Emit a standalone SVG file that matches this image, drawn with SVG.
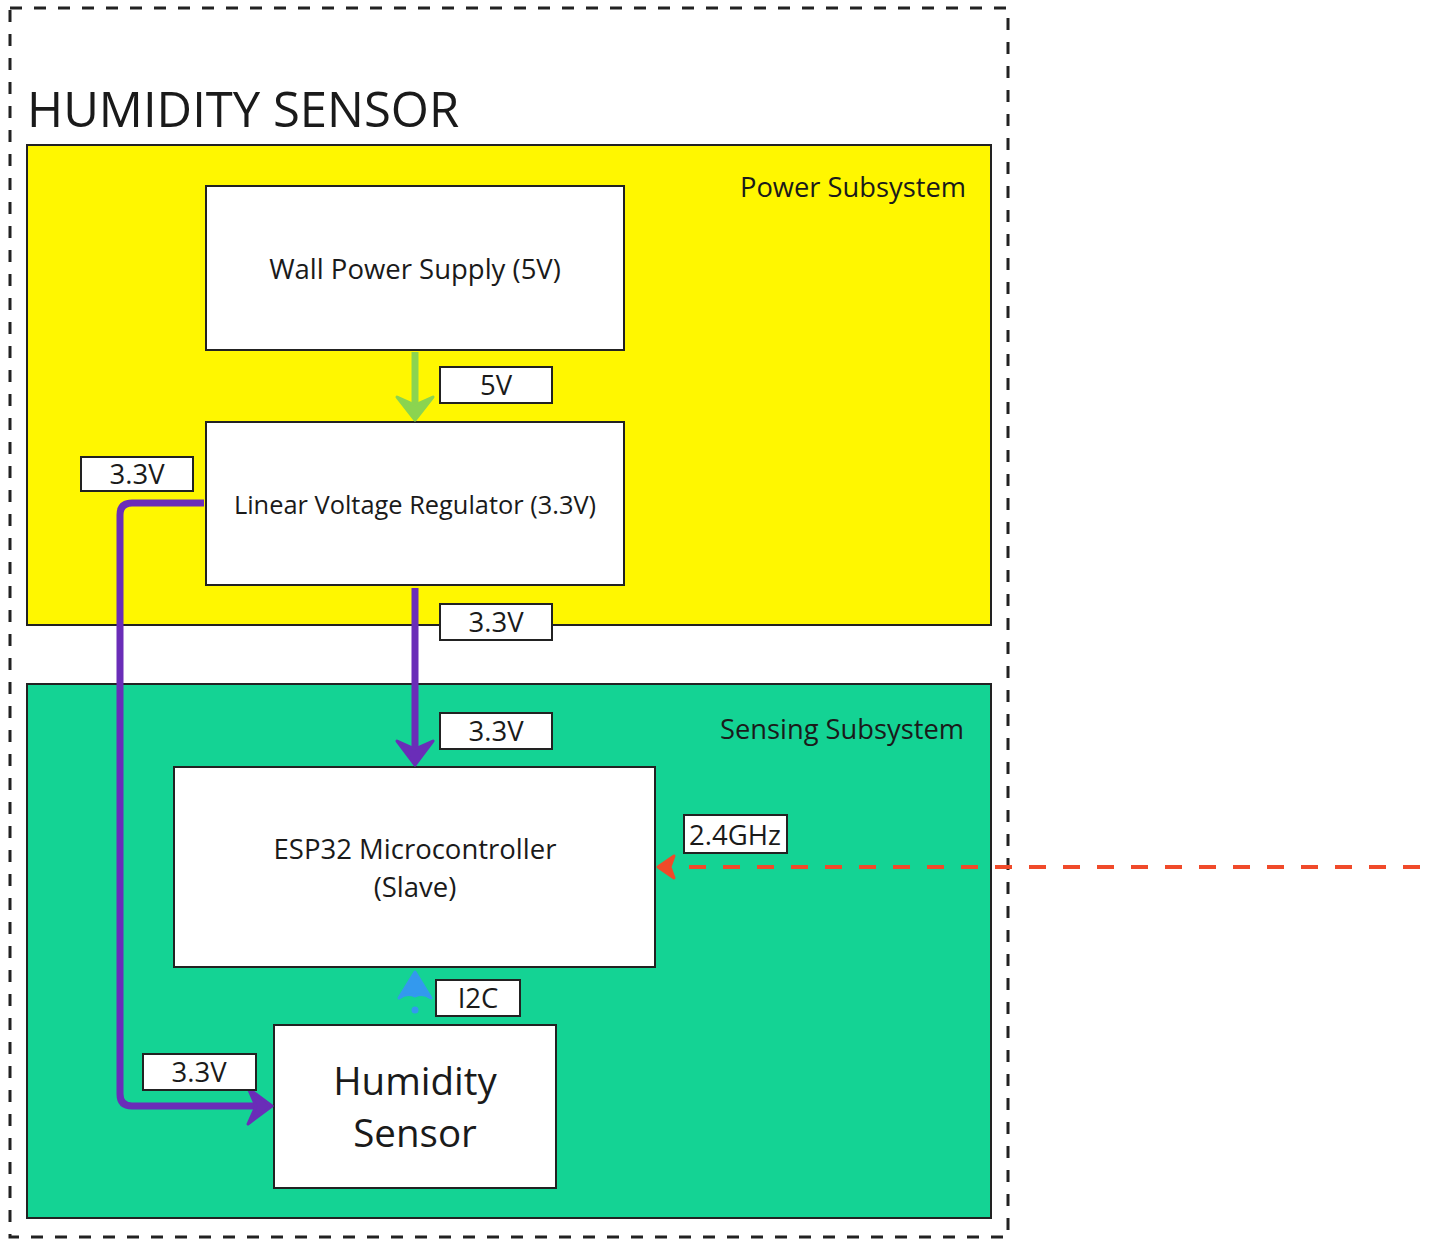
<svg xmlns="http://www.w3.org/2000/svg" width="1430" height="1252" viewBox="0 0 1430 1252">
<style>
text{font-family:"Open Sans","Noto Sans","Liberation Sans",sans-serif;fill:#1a1a1a}
.box{fill:#fff;stroke:#222;stroke-width:2}
.lbl{fill:#fff;stroke:#222;stroke-width:2}
.lt{font-size:27.5px;text-anchor:middle}
.nt{font-size:27.5px;text-anchor:middle}
.st{font-size:27.3px;text-anchor:end}
</style>
<rect width="1430" height="1252" fill="#fff"/>
<g id="outer">
<rect x="10" y="8" width="998" height="1229" fill="none" stroke="#222" stroke-width="3" stroke-dasharray="12 12"/>
<text x="27" y="127" style="font-size:49px">HUMIDITY SENSOR</text>
</g>
<g id="power-subsystem">
<rect x="27" y="145" width="964" height="480" fill="#fff700" stroke="#222" stroke-width="2"/>
<text class="st" x="966" y="197">Power Subsystem</text>
</g>
<g id="sensing-subsystem">
<rect x="27" y="684" width="964" height="534" fill="#14d394" stroke="#222" stroke-width="2"/>
<text class="st" x="964" y="739">Sensing Subsystem</text>
</g>
<g id="wall-power">
<rect class="box" x="206" y="186" width="418" height="164"/>
<text class="nt" x="415" y="279">Wall Power Supply (5V)</text>
</g>
<g id="regulator">
<rect class="box" x="206" y="422" width="418" height="163"/>
<text class="nt" x="415" y="514" style="font-size:25.4px">Linear Voltage Regulator (3.3V)</text>
</g>
<g id="esp32">
<rect class="box" x="174" y="767" width="481" height="200"/>
<text class="nt" x="415" y="859">ESP32 Microcontroller</text>
<text class="nt" x="415" y="897">(Slave)</text>
</g>
<g id="humidity-sensor">
<rect class="box" x="274" y="1025" width="282" height="163"/>
<text x="415" y="1095" style="font-size:38.5px;text-anchor:middle">Humidity</text>
<text x="415" y="1147" style="font-size:38.5px;text-anchor:middle">Sensor</text>
</g>
<g id="connectors">
<line x1="415" y1="352" x2="415" y2="404" stroke="#8bd450" stroke-width="7"/>
<path d="M397 397 L415 420 L433 397 L415 405 Z" fill="#8bd450" stroke="#8bd450" stroke-width="3" stroke-linejoin="round"/>
<path d="M204 503 H132 Q120 503 120 515 V1094 Q120 1106 132 1106 H256" fill="none" stroke="#6a2db8" stroke-width="7"/>
<path d="M248 1088 L272 1106 L248 1124 L256 1106 Z" fill="#6a2db8" stroke="#6a2db8" stroke-width="3" stroke-linejoin="round"/>
<line x1="415" y1="588" x2="415" y2="748" stroke="#6a2db8" stroke-width="7"/>
<path d="M397 741 L415 765 L433 741 L415 749 Z" fill="#6a2db8" stroke="#6a2db8" stroke-width="3" stroke-linejoin="round"/>
<line x1="1420" y1="867" x2="672" y2="867" stroke="#f04a2a" stroke-width="4" stroke-dasharray="17 17"/>
<path d="M674 856 L658 867 L674 878 L670 867 Z" fill="#f04a2a" stroke="#f04a2a" stroke-width="3" stroke-linejoin="round"/>
<circle cx="415" cy="1010" r="3.5" fill="#3399ee"/>
<path d="M399 998 L415 972 L431 998 Q423 992 415 996 Q407 992 399 998 Z" fill="#3399ee" stroke="#3399ee" stroke-width="3" stroke-linejoin="round"/>
</g>
<g id="labels">
<rect class="lbl" x="440" y="367" width="112" height="36"/><text class="lt" x="496" y="395">5V</text>
<rect class="lbl" x="81" y="457" width="112" height="34"/><text class="lt" x="137" y="484">3.3V</text>
<rect class="lbl" x="440" y="604" width="112" height="36"/><text class="lt" x="496" y="632">3.3V</text>
<rect class="lbl" x="440" y="713" width="112" height="36"/><text class="lt" x="496" y="741">3.3V</text>
<rect class="lbl" x="684" y="815" width="103" height="38"/><text class="lt" x="735" y="845">2.4GHz</text>
<rect class="lbl" x="436" y="980" width="84" height="36"/><text class="lt" x="478" y="1008">I2C</text>
<rect class="lbl" x="143" y="1054" width="113" height="36"/><text class="lt" x="199" y="1082">3.3V</text>
</g>
</svg>
